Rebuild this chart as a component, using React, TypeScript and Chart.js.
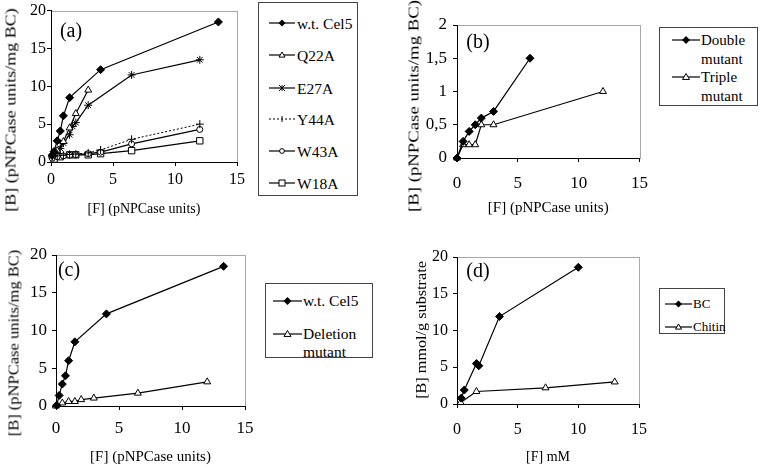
import React, { useEffect, useRef } from "react";
import { Chart, registerables } from "chart.js";
Chart.register(...registerables);

type Pt = [number, number];

// ---------- Panel (a)
const aXTickLabels = ["0", "5", "10", "15"];
const aYTickLabels = ["0", "5", "10", "15", "20"];
const aWtCel5: Pt[] = [[0.1, 0.9], [0.25, 1.4], [0.5, 2.8], [0.75, 4.1], [1, 6.1], [1.5, 8.5], [4, 12.2], [13.5, 18.5]];
const aQ22A: Pt[] = [[0.1, 0.8], [0.5, 1.5], [1, 2.7], [1.5, 4.5], [2, 6.4], [3, 9.5]];
const aE27A: Pt[] = [[0.1, 0.8], [0.25, 1.2], [0.75, 1.8], [1, 2.5], [1.5, 3.6], [1.75, 4.7], [2, 5.2], [3, 7.5], [6.5, 11.5], [12, 13.5]];
const aY44A: Pt[] = [[0.1, 0.7], [0.5, 0.8], [1, 0.9], [1.5, 1.0], [2, 1.05], [3, 1.2], [4, 1.6], [6.5, 3.0], [12, 5.0]];
const aW43A: Pt[] = [[0.1, 0.5], [0.5, 0.7], [1, 0.8], [1.5, 0.9], [2, 0.95], [3, 1.1], [4, 1.3], [6.5, 2.4], [12, 4.3]];
const aW18A: Pt[] = [[0.25, 0.4], [0.75, 0.7], [1.5, 0.95], [2, 0.95], [3, 0.95], [4, 1.1], [6.5, 1.5], [12, 2.8]];

// ---------- Panel (b)
const bXTickLabels = ["0", "5", "10", "15"];
const bYTickLabels = ["0", "0,5", "1", "1,5", "2"];
const bDouble: Pt[] = [[0, 0], [0.5, 0.25], [1, 0.4], [1.5, 0.5], [2, 0.6], [3, 0.7], [6, 1.5]];
const bTriple: Pt[] = [[0, 0], [0.5, 0.2], [1, 0.2], [1.5, 0.2], [2, 0.5], [3, 0.5], [12, 1.0]];

// ---------- Panel (c)
const cXTickLabels = ["0", "5", "10", "15"];
const cYTickLabels = ["0", "5", "10", "15", "20"];
const cWtCel5: Pt[] = [[0.05, 0.1], [0.25, 1.4], [0.5, 2.9], [0.75, 4.0], [1, 6.0], [1.5, 8.5], [4, 12.2], [13.3, 18.5]];
const cDeletion: Pt[] = [[0, 0], [0.5, 0.4], [1, 0.6], [1.5, 0.6], [2, 0.85], [3, 1.05], [6.5, 1.7], [12, 3.2]];

// ---------- Panel (d)
const dXTickLabels = ["0", "5", "10", "15"];
const dYTickLabels = ["0", "5", "10", "15", "20"];
const dBC: Pt[] = [[0.35, 0.8], [0.6, 1.9], [1.6, 5.5], [1.8, 5.2], [3.5, 11.9], [10, 18.6]];
const dChitin: Pt[] = [[0.3, 0.2], [1.6, 1.7], [7.3, 2.2], [13, 3.0]];

const SERIF = "'Liberation Serif', 'Times New Roman', serif";

type Marker = "diamond" | "triangle" | "star" | "cross" | "circle" | "square";

const markerStyle: Record<Marker, any> = {
  diamond: { pointStyle: "rectRot", pointRadius: 4, pointBackgroundColor: "#000" },
  triangle: { pointStyle: "triangle", pointRadius: 4, pointBackgroundColor: "#fff" },
  star: { pointStyle: "star", pointRadius: 4, pointBackgroundColor: "#000" },
  cross: { pointStyle: "cross", pointRadius: 4, pointBackgroundColor: "#000" },
  circle: { pointStyle: "circle", pointRadius: 3, pointBackgroundColor: "#fff" },
  square: { pointStyle: "rect", pointRadius: 4.5, pointBackgroundColor: "#fff" },
};

interface SeriesDef { label: string[]; data: Pt[]; marker: Marker; dash?: number[]; width?: number }
interface LegendDef {
  left: number; top: number; width: number; height: number;
  font: number; lh: number; s0: number; s1: number; textX: number; centers: number[]; mr: number;
}
interface PanelDef {
  box: { left: number; top: number; width: number; height: number };
  padRight: number; padTop: number; yW: number; xH: number;
  xMax: number; xStep: number; yMax: number; yStep: number;
  xLabels: string[]; yLabels: string[];
  tickFont: number; xTickPad: number; yTickPad: number;
  xTitle: string; xTitleFont: number; xTitlePad: number;
  yTitle: string; yTitleCx: number; yTitleCy: number; yTitleFont: number; yTitleStretch: number;
  letter: string; letterCx: number; letterCy: number; letterFont: number;
  legend: LegendDef;
  series: SeriesDef[];
}

const PANELS: PanelDef[] = [
  {
    box: { left: 0, top: 0, width: 258, height: 230 }, padRight: 21, padTop: 10, yW: 51, xH: 68,
    xMax: 15, xStep: 5, yMax: 20, yStep: 5, xLabels: aXTickLabels, yLabels: aYTickLabels,
    tickFont: 16, xTickPad: 4, yTickPad: 1,
    xTitle: "[F] (pNPCase units)", xTitleFont: 14, xTitlePad: 12,
    yTitle: "[B] (pNPCase units/mg BC)", yTitleCx: 11, yTitleCy: 110, yTitleFont: 15, yTitleStretch: 1.2,
    letter: "(a)", letterCx: 71, letterCy: 30, letterFont: 20,
    legend: { left: 258, top: 2, width: 100, height: 194, font: 15.5, lh: 17, s0: 11, s1: 37, textX: 39, centers: [21, 53, 86, 117, 149, 181], mr: 3 },
    series: [
      { label: ["w.t. Cel5"], data: aWtCel5, marker: "diamond" },
      { label: ["Q22A"], data: aQ22A, marker: "triangle" },
      { label: ["E27A"], data: aE27A, marker: "star" },
      { label: ["Y44A"], data: aY44A, marker: "cross", dash: [2, 2], width: 1 },
      { label: ["W43A"], data: aW43A, marker: "circle" },
      { label: ["W18A"], data: aW18A, marker: "square" },
    ],
  },
  {
    box: { left: 380, top: 0, width: 279, height: 230 }, padRight: 14, padTop: 25, yW: 77, xH: 72,
    xMax: 15, xStep: 5, yMax: 2, yStep: 0.5, xLabels: bXTickLabels, yLabels: bYTickLabels,
    tickFont: 17, xTickPad: 11, yTickPad: 6,
    xTitle: "[F] (pNPCase units)", xTitleFont: 15, xTitlePad: 13,
    yTitle: "[B] (pNPCase units/mg BC)", yTitleCx: 414, yTitleCy: 106, yTitleFont: 15, yTitleStretch: 1.25,
    letter: "(b)", letterCx: 478, letterCy: 41, letterFont: 20,
    legend: { left: 659, top: 27, width: 99, height: 79, font: 15, lh: 19, s0: 13, s1: 41, textX: 42, centers: [13, 50], mr: 3.5 },
    series: [
      { label: ["Double", "mutant"], data: bDouble, marker: "diamond" },
      { label: ["Triple", "mutant"], data: bTriple, marker: "triangle" },
    ],
  },
  {
    box: { left: 0, top: 230, width: 265, height: 238 }, padRight: 20, padTop: 25, yW: 56, xH: 62,
    xMax: 15, xStep: 5, yMax: 20, yStep: 5, xLabels: cXTickLabels, yLabels: cYTickLabels,
    tickFont: 17, xTickPad: 8, yTickPad: 5,
    xTitle: "[F] (pNPCase units)", xTitleFont: 15, xTitlePad: 2,
    yTitle: "[B] (pNPCase units/mg BC)", yTitleCx: 14, yTitleCy: 343, yTitleFont: 15, yTitleStretch: 1.1,
    letter: "(c)", letterCx: 69, letterCy: 269, letterFont: 20,
    legend: { left: 265, top: 283, width: 108, height: 75, font: 15.5, lh: 18, s0: 8, s1: 37, textX: 38, centers: [18, 51], mr: 3.5 },
    series: [
      { label: ["w.t. Cel5"], data: cWtCel5, marker: "diamond" },
      { label: ["Deletion", "mutant"], data: cDeletion, marker: "triangle" },
    ],
  },
  {
    box: { left: 380, top: 230, width: 279, height: 238 }, padRight: 20, padTop: 27, yW: 77, xH: 64,
    xMax: 15, xStep: 5, yMax: 20, yStep: 5, xLabels: dXTickLabels, yLabels: dYTickLabels,
    tickFont: 16, xTickPad: 12, yTickPad: 5,
    xTitle: "[F] mM", xTitleFont: 14, xTitlePad: 2,
    yTitle: "[B] mmol/g substrate", yTitleCx: 421, yTitleCy: 330, yTitleFont: 15, yTitleStretch: 1.08,
    letter: "(d)", letterCx: 478, letterCy: 270, letterFont: 20,
    legend: { left: 659, top: 288, width: 66, height: 46, font: 13, lh: 16, s0: 6, s1: 33, textX: 34, centers: [16, 39], mr: 3 },
    series: [
      { label: ["BC"], data: dBC, marker: "diamond" },
      { label: ["Chitin"], data: dChitin, marker: "triangle" },
    ],
  },
];

const framePlugin = {
  id: "frame",
  beforeDraw(chart: any) {
    const { ctx, chartArea: a } = chart;
    ctx.save();
    ctx.strokeStyle = "#a8a8a8";
    ctx.lineWidth = 1;
    ctx.strokeRect(Math.round(a.left) + 0.5, Math.round(a.top) + 0.5, Math.round(a.right - a.left), Math.round(a.bottom - a.top));
    ctx.restore();
  },
};

function ChartPanel({ def }: { def: PanelDef }) {
  const ref = useRef<HTMLCanvasElement>(null);
  useEffect(() => {
    const axisCommon = () => ({
      type: "linear" as const,
      min: 0,
      grid: { drawOnChartArea: false, drawTicks: true, tickLength: 4, color: "#000", lineWidth: 1 },
      border: { display: true, color: "#000", width: 1 },
    });
    const chart = new Chart(ref.current!, {
      type: "line",
      data: {
        datasets: def.series.map((s) => ({
          label: s.label.join(" "),
          data: s.data.map(([x, y]) => ({ x, y })),
          borderColor: "#000",
          borderWidth: s.width ?? 1.2,
          borderDash: s.dash ?? [],
          tension: 0,
          fill: false,
          clip: false as any,
          pointBorderColor: "#000",
          pointBorderWidth: 1,
          ...markerStyle[s.marker],
        })),
      },
      options: {
        animation: false,
        responsive: false,
        maintainAspectRatio: false,
        devicePixelRatio: 1,
        layout: { padding: { left: 0, right: def.padRight, top: def.padTop, bottom: 0 } },
        plugins: { legend: { display: false }, tooltip: { enabled: false } },
        scales: {
          x: {
            ...axisCommon(),
            max: def.xMax,
            ticks: {
              stepSize: def.xStep, autoSkip: false, maxRotation: 0, color: "#000", padding: def.xTickPad,
              font: { family: SERIF, size: def.tickFont },
              callback: (_v: any, i: number) => def.xLabels[i],
            },
            title: { display: true, text: def.xTitle, color: "#000", font: { family: SERIF, size: def.xTitleFont }, padding: { top: 0, bottom: def.xTitlePad } },
            afterFit: (s: any) => { s.height = def.xH; },
          },
          y: {
            ...axisCommon(),
            max: def.yMax,
            ticks: {
              stepSize: def.yStep, autoSkip: false, color: "#000", padding: def.yTickPad,
              font: { family: SERIF, size: def.tickFont },
              callback: (_v: any, i: number) => def.yLabels[i],
            },
            afterFit: (s: any) => { s.width = def.yW; },
          },
        },
      } as any,
      plugins: [framePlugin],
    });
    return () => chart.destroy();
  }, []);
  const b = def.box;
  return (
    <canvas
      ref={ref}
      width={b.width}
      height={b.height}
      style={{ position: "absolute", left: b.left, top: b.top, width: b.width, height: b.height, display: "block" }}
    />
  );
}

function MarkerSvg({ type, cx, cy, r }: { type: Marker; cx: number; cy: number; r: number }) {
  switch (type) {
    case "diamond":
      return <polygon points={`${cx},${cy - r - 0.5} ${cx + r + 0.5},${cy} ${cx},${cy + r + 0.5} ${cx - r - 0.5},${cy}`} fill="#000" />;
    case "triangle":
      return <polygon points={`${cx},${cy - r} ${cx + r},${cy + r * 0.7} ${cx - r},${cy + r * 0.7}`} fill="#fff" stroke="#000" strokeWidth={1} />;
    case "star":
      return (
        <g stroke="#000" strokeWidth={1}>
          <line x1={cx - r} y1={cy - r} x2={cx + r} y2={cy + r} />
          <line x1={cx - r} y1={cy + r} x2={cx + r} y2={cy - r} />
          <line x1={cx} y1={cy - r} x2={cx} y2={cy + r} />
        </g>
      );
    case "cross":
      return (
        <g stroke="#000" strokeWidth={1}>
          <line x1={cx} y1={cy - r} x2={cx} y2={cy + r} />
        </g>
      );
    case "circle":
      return <circle cx={cx} cy={cy} r={r * 0.8} fill="#fff" stroke="#000" strokeWidth={1} />;
    case "square":
      return <rect x={cx - r} y={cy - r} width={2 * r} height={2 * r} fill="#fff" stroke="#000" strokeWidth={1} />;
  }
  return null;
}

function LegendBox({ def }: { def: PanelDef }) {
  const L = def.legend;
  return (
    <div
      style={{
        position: "absolute", left: L.left, top: L.top, width: L.width, height: L.height,
        border: "1px solid #444", boxSizing: "border-box", background: "#fff", fontFamily: SERIF,
      }}
    >
      {def.series.map((s, i) => {
        const cy = L.centers[i] - 1;
        const mid = (L.s0 + L.s1) / 2;
        return (
          <React.Fragment key={i}>
            <svg
              width={L.width}
              height={14}
              style={{ position: "absolute", left: -1, top: cy - 7, overflow: "visible" }}
            >
              <line x1={L.s0} y1={7} x2={L.s1} y2={7} stroke="#000" strokeWidth={s.width ?? 1.2} strokeDasharray={s.dash ? s.dash.join(",") : undefined} />
              <MarkerSvg type={s.marker} cx={mid} cy={7} r={L.mr} />
            </svg>
            <div
              style={{
                position: "absolute", left: L.textX - 1, top: cy - L.lh / 2, fontSize: L.font,
                lineHeight: `${L.lh}px`, whiteSpace: "nowrap", color: "#000", fontFamily: SERIF,
              }}
            >
              {s.label.map((t, j) => (
                <div key={j}>{t}</div>
              ))}
            </div>
          </React.Fragment>
        );
      })}
    </div>
  );
}

export default function App() {
  return (
    <div style={{ position: "absolute", left: 0, top: 0, width: 762, height: 468, background: "#fff", overflow: "hidden", fontFamily: SERIF }}>
      {PANELS.map((p, i) => (
        <React.Fragment key={i}>
          <ChartPanel def={p} />
          <LegendBox def={p} />
          <div
            style={{
              position: "absolute", left: p.yTitleCx, top: p.yTitleCy, fontSize: p.yTitleFont, lineHeight: 1,
              whiteSpace: "nowrap", color: "#000", fontFamily: SERIF,
              transform: `translate(-50%, -50%) rotate(-90deg) scaleX(${p.yTitleStretch})`,
            }}
          >
            {p.yTitle}
          </div>
          <div
            style={{
              position: "absolute", left: p.letterCx, top: p.letterCy, fontSize: p.letterFont, lineHeight: 1,
              whiteSpace: "nowrap", color: "#000", fontFamily: SERIF, transform: "translate(-50%, -50%)",
            }}
          >
            {p.letter}
          </div>
        </React.Fragment>
      ))}
    </div>
  );
}
